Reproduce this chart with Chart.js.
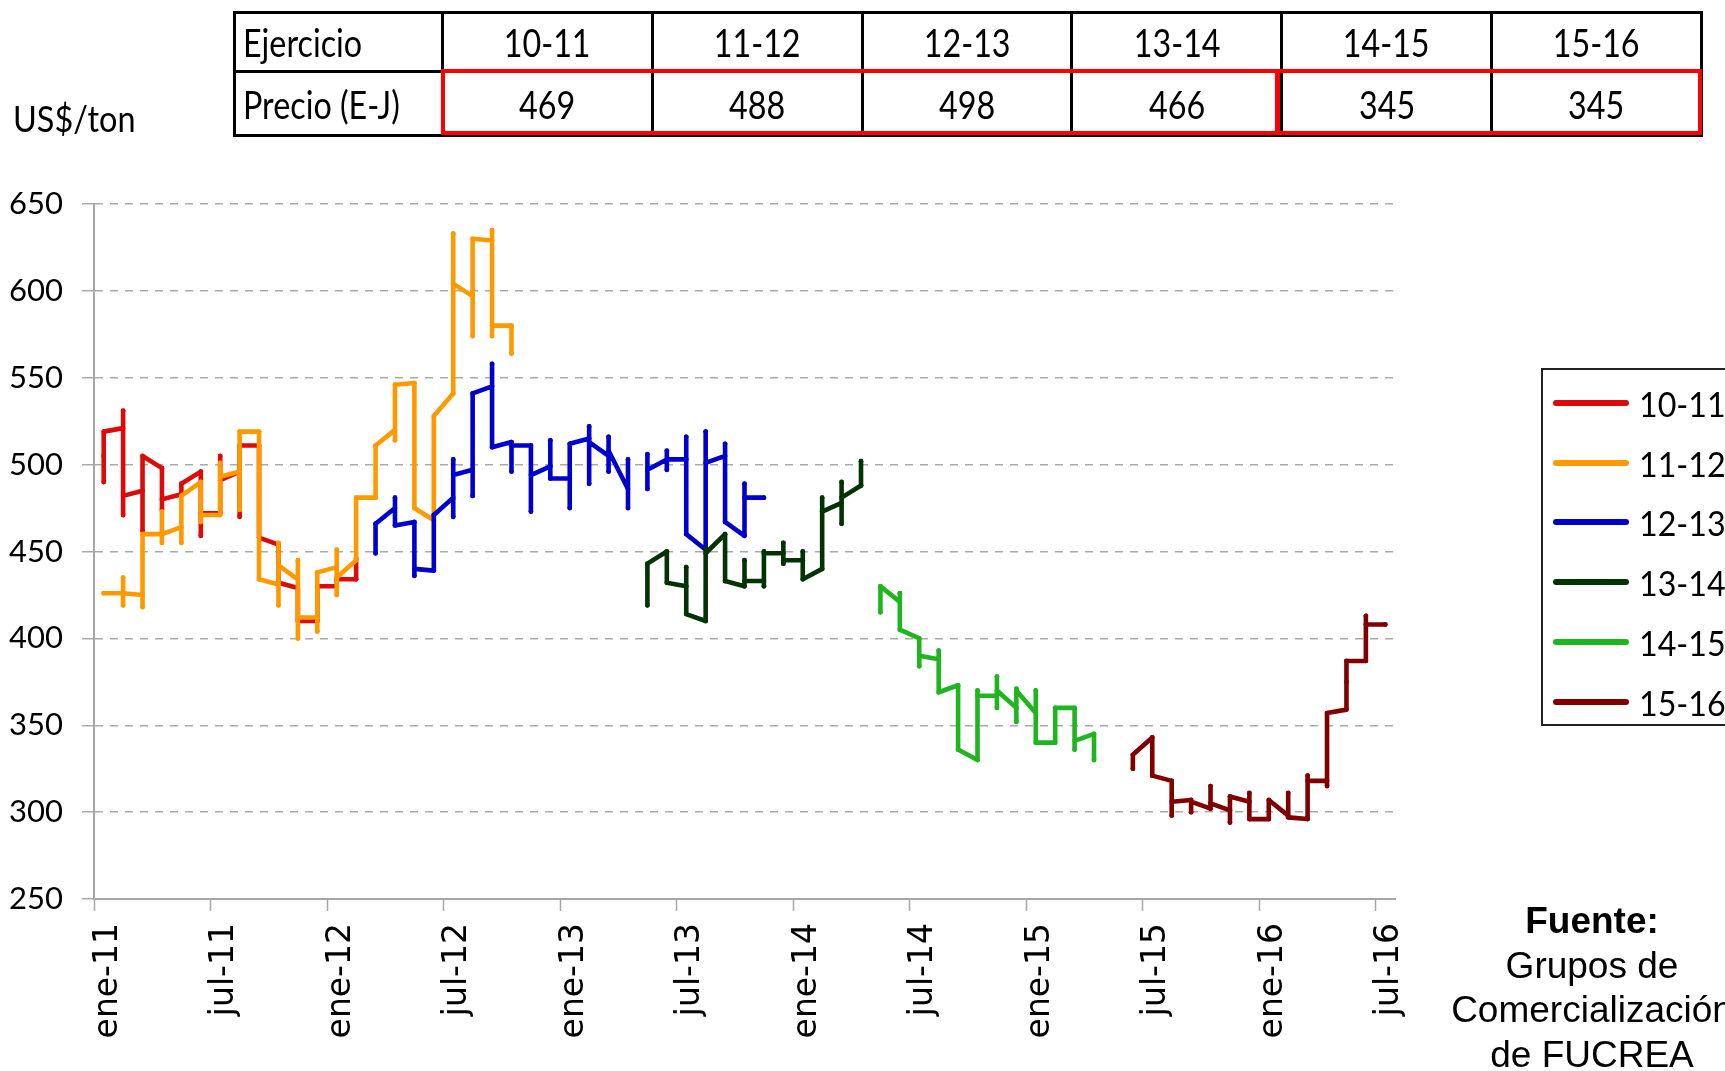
<!DOCTYPE html>
<html><head><meta charset="utf-8">
<script src="https://cdn.jsdelivr.net/npm/chart.js@4.4.1/dist/chart.umd.min.js"></script>
<style>
html,body{margin:0;padding:0;background:#fff;overflow:hidden;}
#wrap{position:relative;width:1725px;height:1071px;overflow:hidden;}
#c{position:absolute;left:0;top:0;}
.cal{font-family:Lato,"Open Sans",sans-serif;}
.s{display:inline-block;transform:scaleX(0.85);transform-origin:center center;}
#unit{position:absolute;left:13px;top:96px;font-size:36px;line-height:44px;color:#000;}
#unit .s{transform-origin:left center;transform:scaleX(0.9);}
#tbl{position:absolute;left:233px;top:11px;border-collapse:collapse;table-layout:fixed;}
#tbl td{border:3.5px solid #000;font-size:38px;color:#000;padding:0;text-align:center;white-space:nowrap;line-height:40px;}
#tbl td.h{text-align:left;padding-left:7px;}
#tbl td.h .s{transform-origin:left center;}
.redbox{position:absolute;border:4px solid #ff0000;box-sizing:border-box;}
#legend{position:absolute;left:1541px;top:368px;width:220px;height:358px;border:2px solid #222;box-sizing:border-box;}
.li{position:absolute;left:0;height:44px;width:220px;}
.ll{position:absolute;left:10px;top:19px;width:76px;height:6px;border-radius:3px;}
.lt{position:absolute;left:96px;top:0;font-size:35px;line-height:44px;color:#000;}
.lt .s{transform-origin:left center;transform:scaleX(0.92);}
#fuente{position:absolute;left:1392px;top:899px;width:400px;text-align:center;font-family:"Liberation Sans",Arial,sans-serif;font-size:37px;line-height:44.5px;color:#000;white-space:nowrap;}
</style></head><body>
<div id="wrap">
<canvas id="c" width="1725" height="1071"></canvas>
<div id="unit" class="cal"><span class="s">US$/ton</span></div>
<table id="tbl" class="cal"></table>
<div class="redbox" style="left:441px;top:69px;width:838px;height:66px;"></div>
<div class="redbox" style="left:1276px;top:69px;width:426px;height:66px;"></div>
<div id="legend" class="cal"></div>
<div id="fuente"><div style="font-weight:bold">Fuente:</div><div>Grupos de</div><div>Comercialización</div><div>de FUCREA</div></div>
</div>
<script>
// ---- DATA ----
const seasons = ['10-11','11-12','12-13','13-14','14-15','15-16'];
const seasonColors = ['#dd0a0a','#ff9900','#0000cc','#033303','#1fb51f','#800000'];
const tableHeader = ['Ejercicio','Precio (E-J)'];
const tablePrices = [469, 488, 498, 466, 345, 345];
const xTickMonths = [0,6,12,18,24,30,36,42,48,54,60,66];
const xTickLabels = ['ene-11','jul-11','ene-12','jul-12','ene-13','jul-13','ene-14','jul-14','ene-15','jul-15','ene-16','jul-16'];
const yTicks = [250,300,350,400,450,500,550,600,650];

// weekly quotes grouped by month (Excel date axis plots them at the month position)
const start1011 = '2011-01';
const prices1011 = [[490,505,519],[521,531,471,482],[485,462,505],[498,474,480],[483,489],[496,459,472],
  [472,505,491],[496,470,511],[511,458],[454,432],[429,410],[410,430],[430,434],[434,446]];
const start1112 = '2011-01';
const prices1112 = [[426],[426,435,419,426],[425,418,460],[460,473,455,460],[464,455,482],[490,467,471],
  [471,501,493],[496,474,519],[519,434],[431,455,419,442],[434,445,400,412],[412,404,438],[441,451,425,435],
  [445,481],[481,511],[520,514,546],[547,475],[468,528],[541,633,604],[597,574,630],[629,635,574,580],[580,564]];
const start1213 = '2012-03';
const prices1213 = [[449,466],[475,481,465],[467,436,440],[439,471],[481,503,470,494],[497,482,541],
  [545,558,510],[513,496,511],[511,473,494],[499,514,492],[492,475,512],[515,522,489,513],[505,516,496,508],
  [486,503,475,null],[486,506,497],[503,508,497,503],[503,516,460],[451,519,501],[505,512,467],[459,489,481],[481]];
const start1314 = '2013-05';
const prices1314 = [[419,443],[450,432],[430,441,414],[410,452,449],[460,433],[430,445,433],[433,450,430,449],
  [449,455,443,445],[445,450,434],[440,481,473],[478,490,466,481],[488,502,488]];
const start1415 = '2014-05';
const prices1415 = [[415,430],[421,426,405],[400,384,390],[388,393,369],[373,336],[330,370,367],[367,378,360,370],
  [360,371,352,370],[357,370,340],[340,360],[360,336,341],[345,330]];
const start1516 = '2015-06';
const prices1516 = [[325,333],[343,321],[318,298,306],[307,300,306],[302,315,305],[301,294,309],[306,311,296],
  [296,307],[298,311,297],[296,321,318],[318,315,357],[359,375,387],[387,413,408],[408]];

const seriesStarts = [start1011,start1112,start1213,start1314,start1415,start1516];
const seriesPrices = [prices1011,prices1112,prices1213,prices1314,prices1415,prices1516];

// ---- BUILD ----
function monthIndex(s){const [y,m]=s.split('-').map(Number);return (y-2011)*12+(m-1);}
function buildPoints(start, months){
  const m0 = monthIndex(start); const pts=[];
  months.forEach((vals,i)=>vals.forEach(v=>pts.push({x:m0+i+0.5,y:v})));
  return pts;
}

// table
const tbl=document.getElementById('tbl');
const colW=[208].concat(seasons.map(()=>209.8));
const cg=document.createElement('colgroup');
colW.forEach(w=>{const c=document.createElement('col');c.style.width=w+'px';cg.appendChild(c);});
tbl.appendChild(cg);
[[tableHeader[0]].concat(seasons),[tableHeader[1]].concat(tablePrices.map(String))].forEach((row,ri)=>{
  const tr=document.createElement('tr');tr.style.height=(ri===0?59:64)+'px';
  row.forEach((t,ci)=>{const td=document.createElement('td');
    const sp=document.createElement('span');sp.className='s';sp.textContent=t;td.appendChild(sp);
    if(ci===0)td.className='h';tr.appendChild(td);});
  tbl.appendChild(tr);
});
tbl.style.width='1467px';

// legend
const lg=document.getElementById('legend');
seasons.forEach((s,i)=>{
  const d=document.createElement('div');d.className='li';d.style.top=(11+i*59.7)+'px';
  d.innerHTML='<div class="ll" style="background:'+seasonColors[i]+'"></div><div class="lt"><span class="s">'+s+'</span></div>';
  lg.appendChild(d);
});

const datasets = seasons.map((s,i)=>({
  label:s,
  data:buildPoints(seriesStarts[i],seriesPrices[i]),
  borderColor:seasonColors[i],
  backgroundColor:seasonColors[i],
  borderWidth:4.6,
  pointRadius:2.4,
  pointBorderWidth:0,
  pointBackgroundColor:seasonColors[i],
  borderJoinStyle:'round',
  borderCapStyle:'round',
  spanGaps:false,
  tension:0,
  order:6-i
}));

new Chart(document.getElementById('c'),{
  type:'line',
  data:{datasets},
  options:{
    responsive:false,
    animation:false,
    devicePixelRatio:1,
    layout:{padding:{left:0,top:204,right:330,bottom:0}},
    plugins:{legend:{display:false},tooltip:{enabled:false}},
    scales:{
      x:{
        type:'linear',min:0,max:67,
        afterBuildTicks:(sc)=>{sc.ticks=xTickMonths.map(v=>({value:v}));},
        afterFit:(sc)=>{sc.height=172;},
        ticks:{autoSkip:false,minRotation:90,maxRotation:90,padding:12,labelOffset:14,color:'#000',
          font:{family:'DejaVu Sans',size:33},
          callback:(v)=>{const k=xTickMonths.indexOf(v);return k>=0?xTickLabels[k]:'';}},
        grid:{drawOnChartArea:false,drawTicks:true,tickLength:12,tickColor:'#a6a6a6',tickWidth:1.5},
        border:{display:true,color:'#a6a6a6',width:2}
      },
      y:{
        min:250,max:650,
        afterBuildTicks:(sc)=>{sc.ticks=yTicks.map(v=>({value:v}));},
        afterFit:(sc)=>{sc.width=94;},
        ticks:{padding:19,color:'#000',font:{family:'Lato',size:31}},
        grid:{color:'#aaaaaa',lineWidth:1.5,tickLength:12,tickColor:'#aaaaaa',tickWidth:1.5,tickBorderDash:[]},
        border:{display:true,color:'#a6a6a6',width:2,dash:[8,7]}
      }
    }
  }
});
</script>
</body></html>
